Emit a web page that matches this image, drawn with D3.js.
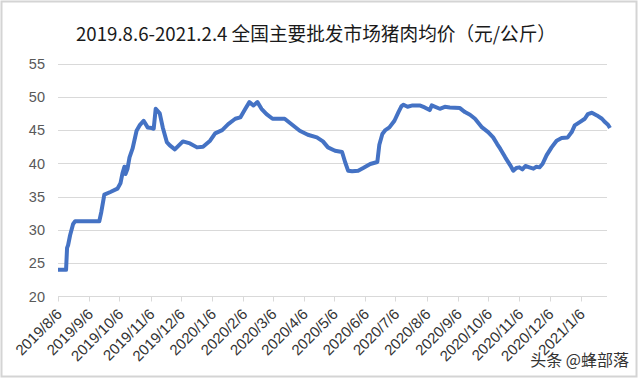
<!DOCTYPE html>
<html>
<head>
<meta charset="utf-8">
<script src="https://cdn.jsdelivr.net/npm/d3@7"></script>
<style>
  html, body { margin: 0; padding: 0; background: #fff; }
  svg { display: block; }
</style>
</head>
<body>
<div id="chart"></div>
<script>
const title = '2019.8.6-2021.2.4 全国主要批发市场猪肉均价（元/公斤）';
const watermark = '头条 @蜂部落';

const yTicks = [20, 25, 30, 35, 40, 45, 50, 55];
const xTickLabels = ['2019/8/6','2019/9/6','2019/10/6','2019/11/6','2019/12/6','2020/1/6','2020/2/6',
  '2020/3/6','2020/4/6','2020/5/6','2020/6/6','2020/7/6','2020/8/6','2020/9/6','2020/10/6',
  '2020/11/6','2020/12/6','2021/1/6'];

const dates = ['2019-08-06','2019-08-14','2019-08-15','2019-08-16','2019-08-18','2019-08-21','2019-08-23',
  '2019-09-16','2019-09-18','2019-09-21','2019-09-27','2019-10-04','2019-10-07','2019-10-09','2019-10-11',
  '2019-10-12','2019-10-14','2019-10-16','2019-10-19','2019-10-23','2019-10-26','2019-10-30','2019-11-03',
  '2019-11-07','2019-11-09','2019-11-11','2019-11-15','2019-11-18','2019-11-22','2019-11-25','2019-11-30',
  '2019-12-08','2019-12-15','2019-12-22','2019-12-28','2020-01-04','2020-01-09','2020-01-16','2020-01-22',
  '2020-01-29','2020-02-03','2020-02-08','2020-02-12','2020-02-16','2020-02-20','2020-02-24','2020-02-29',
  '2020-03-06','2020-03-13','2020-03-18','2020-03-23','2020-04-02','2020-04-10','2020-04-19','2020-04-25',
  '2020-04-30','2020-05-07','2020-05-14','2020-05-17','2020-05-20','2020-05-24','2020-05-30','2020-06-04',
  '2020-06-11','2020-06-18','2020-06-20','2020-06-23','2020-06-26','2020-06-30','2020-07-05','2020-07-09',
  '2020-07-12','2020-07-14','2020-07-18','2020-07-23','2020-07-30','2020-08-04','2020-08-09','2020-08-11',
  '2020-08-19','2020-08-24','2020-08-29','2020-09-08','2020-09-13','2020-09-18','2020-09-23','2020-09-30',
  '2020-10-06','2020-10-11','2020-10-15','2020-10-18','2020-10-23','2020-10-28','2020-10-31','2020-11-03',
  '2020-11-06','2020-11-09','2020-11-12','2020-11-16','2020-11-20','2020-11-23','2020-11-26','2020-11-29',
  '2020-12-03','2020-12-08','2020-12-13','2020-12-18','2020-12-24','2020-12-28','2020-12-31','2021-01-05',
  '2021-01-10','2021-01-13','2021-01-17','2021-01-22','2021-01-27','2021-01-30','2021-02-02','2021-02-04'];

const prices = [24.0,24.0,27.3,27.7,29.2,30.9,31.3,
  31.3,32.7,35.3,35.7,36.2,37.0,38.5,39.5,
  38.4,39.2,40.9,42.2,44.9,45.7,46.4,45.4,
  45.3,45.2,48.2,47.5,45.4,43.2,42.7,42.1,
  43.3,43.0,42.4,42.5,43.4,44.5,45.0,45.9,
  46.7,46.9,48.2,49.2,48.7,49.2,48.2,47.4,
  46.7,46.7,46.7,46.1,44.9,44.3,43.9,43.3,
  42.4,41.9,41.7,40.2,38.9,38.8,38.9,39.3,
  39.9,40.2,42.8,44.4,45.0,45.4,46.4,47.7,
  48.6,48.8,48.5,48.7,48.7,48.4,48.0,48.7,
  48.2,48.5,48.4,48.3,47.7,47.3,46.7,45.4,
  44.7,43.9,42.9,42.2,40.9,39.7,38.9,39.3,
  39.4,39.1,39.6,39.4,39.2,39.5,39.4,39.9,
  41.2,42.4,43.4,43.8,43.9,44.7,45.7,46.2,
  46.7,47.4,47.6,47.2,46.7,46.2,45.8,45.3];

const width = 640, height = 379;
const parseDay = d3.timeParse('%Y-%m-%d');
const parseTick = d3.timeParse('%Y/%m/%d');
const data = dates.map((d, i) => ({date: parseDay(d), value: prices[i]}));

const svg = d3.select('#chart').append('svg')
  .attr('width', width).attr('height', height);

svg.append('rect').attr('width', width).attr('height', height).attr('fill', '#fff');
svg.append('rect')
  .attr('x', 1.5).attr('y', 1.5).attr('width', 635).attr('height', 375)
  .attr('fill', 'none').attr('stroke', '#d4d4d4').attr('stroke-width', 2);

const x = d3.scaleTime()
  .domain([parseDay('2019-08-06'), parseDay('2021-02-04')])
  .range([58, 610]);
const y = d3.scaleLinear().domain([20, 55]).range([296.5, 63.5]);

// grid
svg.append('g').selectAll('line').data(yTicks.slice(1)).join('line')
  .attr('x1', 58).attr('x2', 607)
  .attr('y1', d => Math.round(y(d)) + 0.5).attr('y2', d => Math.round(y(d)) + 0.5)
  .attr('stroke', '#d9d9d9').attr('stroke-width', 1);

// y labels
svg.append('g').selectAll('text').data(yTicks).join('text')
  .attr('x', 45).attr('y', d => y(d)).attr('dy', '0.36em')
  .attr('text-anchor', 'end')
  .attr('font-family', 'Liberation Sans, Arial, sans-serif')
  .attr('font-size', 14.5).attr('fill', '#595959')
  .text(d => d);

// x axis
const tickDates = xTickLabels.map(parseTick);
const xAxis = svg.append('g');
xAxis.append('line')
  .attr('x1', 58).attr('x2', 607).attr('y1', 296.5).attr('y2', 296.5)
  .attr('stroke', '#d9d9d9');
xAxis.selectAll('line.tick').data(tickDates).join('line').attr('class', 'tick')
  .attr('x1', d => Math.round(x(d)) + 0.5).attr('x2', d => Math.round(x(d)) + 0.5)
  .attr('y1', 296.5).attr('y2', 301.5)
  .attr('stroke', '#d9d9d9');
xAxis.selectAll('text').data(xTickLabels).join('text')
  .attr('transform', (d, i) => `translate(${x(tickDates[i]) + 5},${315}) rotate(-45)`)
  .attr('text-anchor', 'end')
  .attr('font-family', 'Liberation Sans, Arial, sans-serif')
  .attr('font-size', 15).attr('fill', '#333')
  .text(d => d);

// price line
const line = d3.line().x(d => x(d.date)).y(d => y(d.value));
svg.append('path').datum(data)
  .attr('d', line)
  .attr('fill', 'none')
  .attr('stroke', '#4472c4')
  .attr('stroke-width', 4)
  .attr('stroke-linejoin', 'round')
  .attr('stroke-linecap', 'butt');

// title
svg.append('text')
  .attr('x', 316).attr('y', 41)
  .attr('text-anchor', 'middle')
  .attr('font-family', 'Noto Sans CJK SC, sans-serif')
  .attr('font-size', 19).attr('fill', '#1a1a1a')
  .attr('textLength', 480).attr('lengthAdjust', 'spacingAndGlyphs')
  .text(title);

// watermark
svg.append('text')
  .attr('x', 629).attr('y', 366)
  .attr('text-anchor', 'end')
  .attr('font-family', 'Noto Sans CJK SC, sans-serif')
  .attr('font-size', 16).attr('fill', '#333')
  .attr('stroke', '#fff').attr('stroke-width', 4).attr('paint-order', 'stroke')
  .text(watermark);
</script>
</body>
</html>
